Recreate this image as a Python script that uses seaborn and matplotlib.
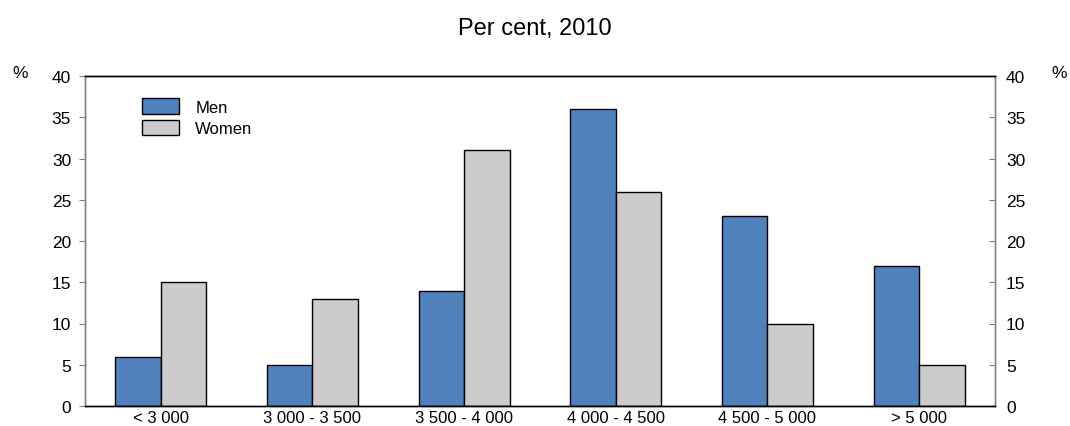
import matplotlib
matplotlib.use("Agg")
import matplotlib.pyplot as plt
import seaborn as sns
import pandas as pd

categories = ["< 3 000", "3 000 - 3 500", "3 500 - 4 000", "4 000 - 4 500", "4 500 - 5 000", "> 5 000"]
men = [6, 5, 14, 36, 23, 17]
women = [15, 13, 31, 26, 10, 5]
series = ["Men", "Women"]
colors = ["#4F81BD", "#CCCCCC"]

df = pd.DataFrame({
    "cat": categories * 2,
    "val": men + women,
    "series": [series[0]] * len(categories) + [series[1]] * len(categories),
})

sns.set_style("white")
plt.rcParams["font.family"] = ["Liberation Sans", "DejaVu Sans"]
plt.rcParams["text.color"] = "black"
plt.rcParams["xtick.color"] = "black"
plt.rcParams["ytick.color"] = "black"

fig = plt.figure(figsize=(10.70, 4.27), dpi=100)
ax = fig.add_axes([85/1070, 1 - 407/427, 910/1070, 330/427])

sns.barplot(data=df, x="cat", y="val", hue="series", palette=colors, width=0.6,
            edgecolor="black", linewidth=1.0, ax=ax, saturation=1)

ax.set_xlim(-0.5, 5.5)
ax.set_ylim(0, 40)
ax.set_yticks(range(0, 41, 5))
ax.set_xlabel("")
ax.set_ylabel("")
ax.tick_params(axis="x", length=0, labelsize=12, pad=3, labelcolor="black")
ax.tick_params(axis="y", direction="out", length=4, labelsize=12.5, left=True,
               color="#808080", labelcolor="black", pad=6)

ax2 = ax.twinx()
ax2.set_ylim(0, 40)
ax2.set_yticks(range(0, 41, 5))
ax2.tick_params(axis="y", which="both", direction="in", length=4, labelsize=12.5,
                right=True, left=False, color="#808080", labelcolor="black", pad=8)

for a in (ax, ax2):
    a.spines["left"].set_color("#808080")
    a.spines["right"].set_color("#808080")
    a.spines["top"].set_color("black")
    a.spines["bottom"].set_color("black")
    for s in a.spines.values():
        s.set_visible(True)
        s.set_linewidth(1.0)

leg = ax.legend(loc="upper left", bbox_to_anchor=((142 - 85) / 910, (407 - 99) / 330),
                frameon=False, borderpad=0, borderaxespad=0,
                fontsize=12, handlelength=2.2, handleheight=1.08, labelspacing=0.3,
                handletextpad=1.0)

fig.text(0.5, 1 - 29/427, "Per cent, 2010", ha="center", va="center", fontsize=17)
fig.text(20/1070, 1 - 73/427, "%", ha="center", va="center", fontsize=12.5)
fig.text(1059/1070, 1 - 73/427, "%", ha="center", va="center", fontsize=12.5)

fig.savefig("out.png", dpi=100)
